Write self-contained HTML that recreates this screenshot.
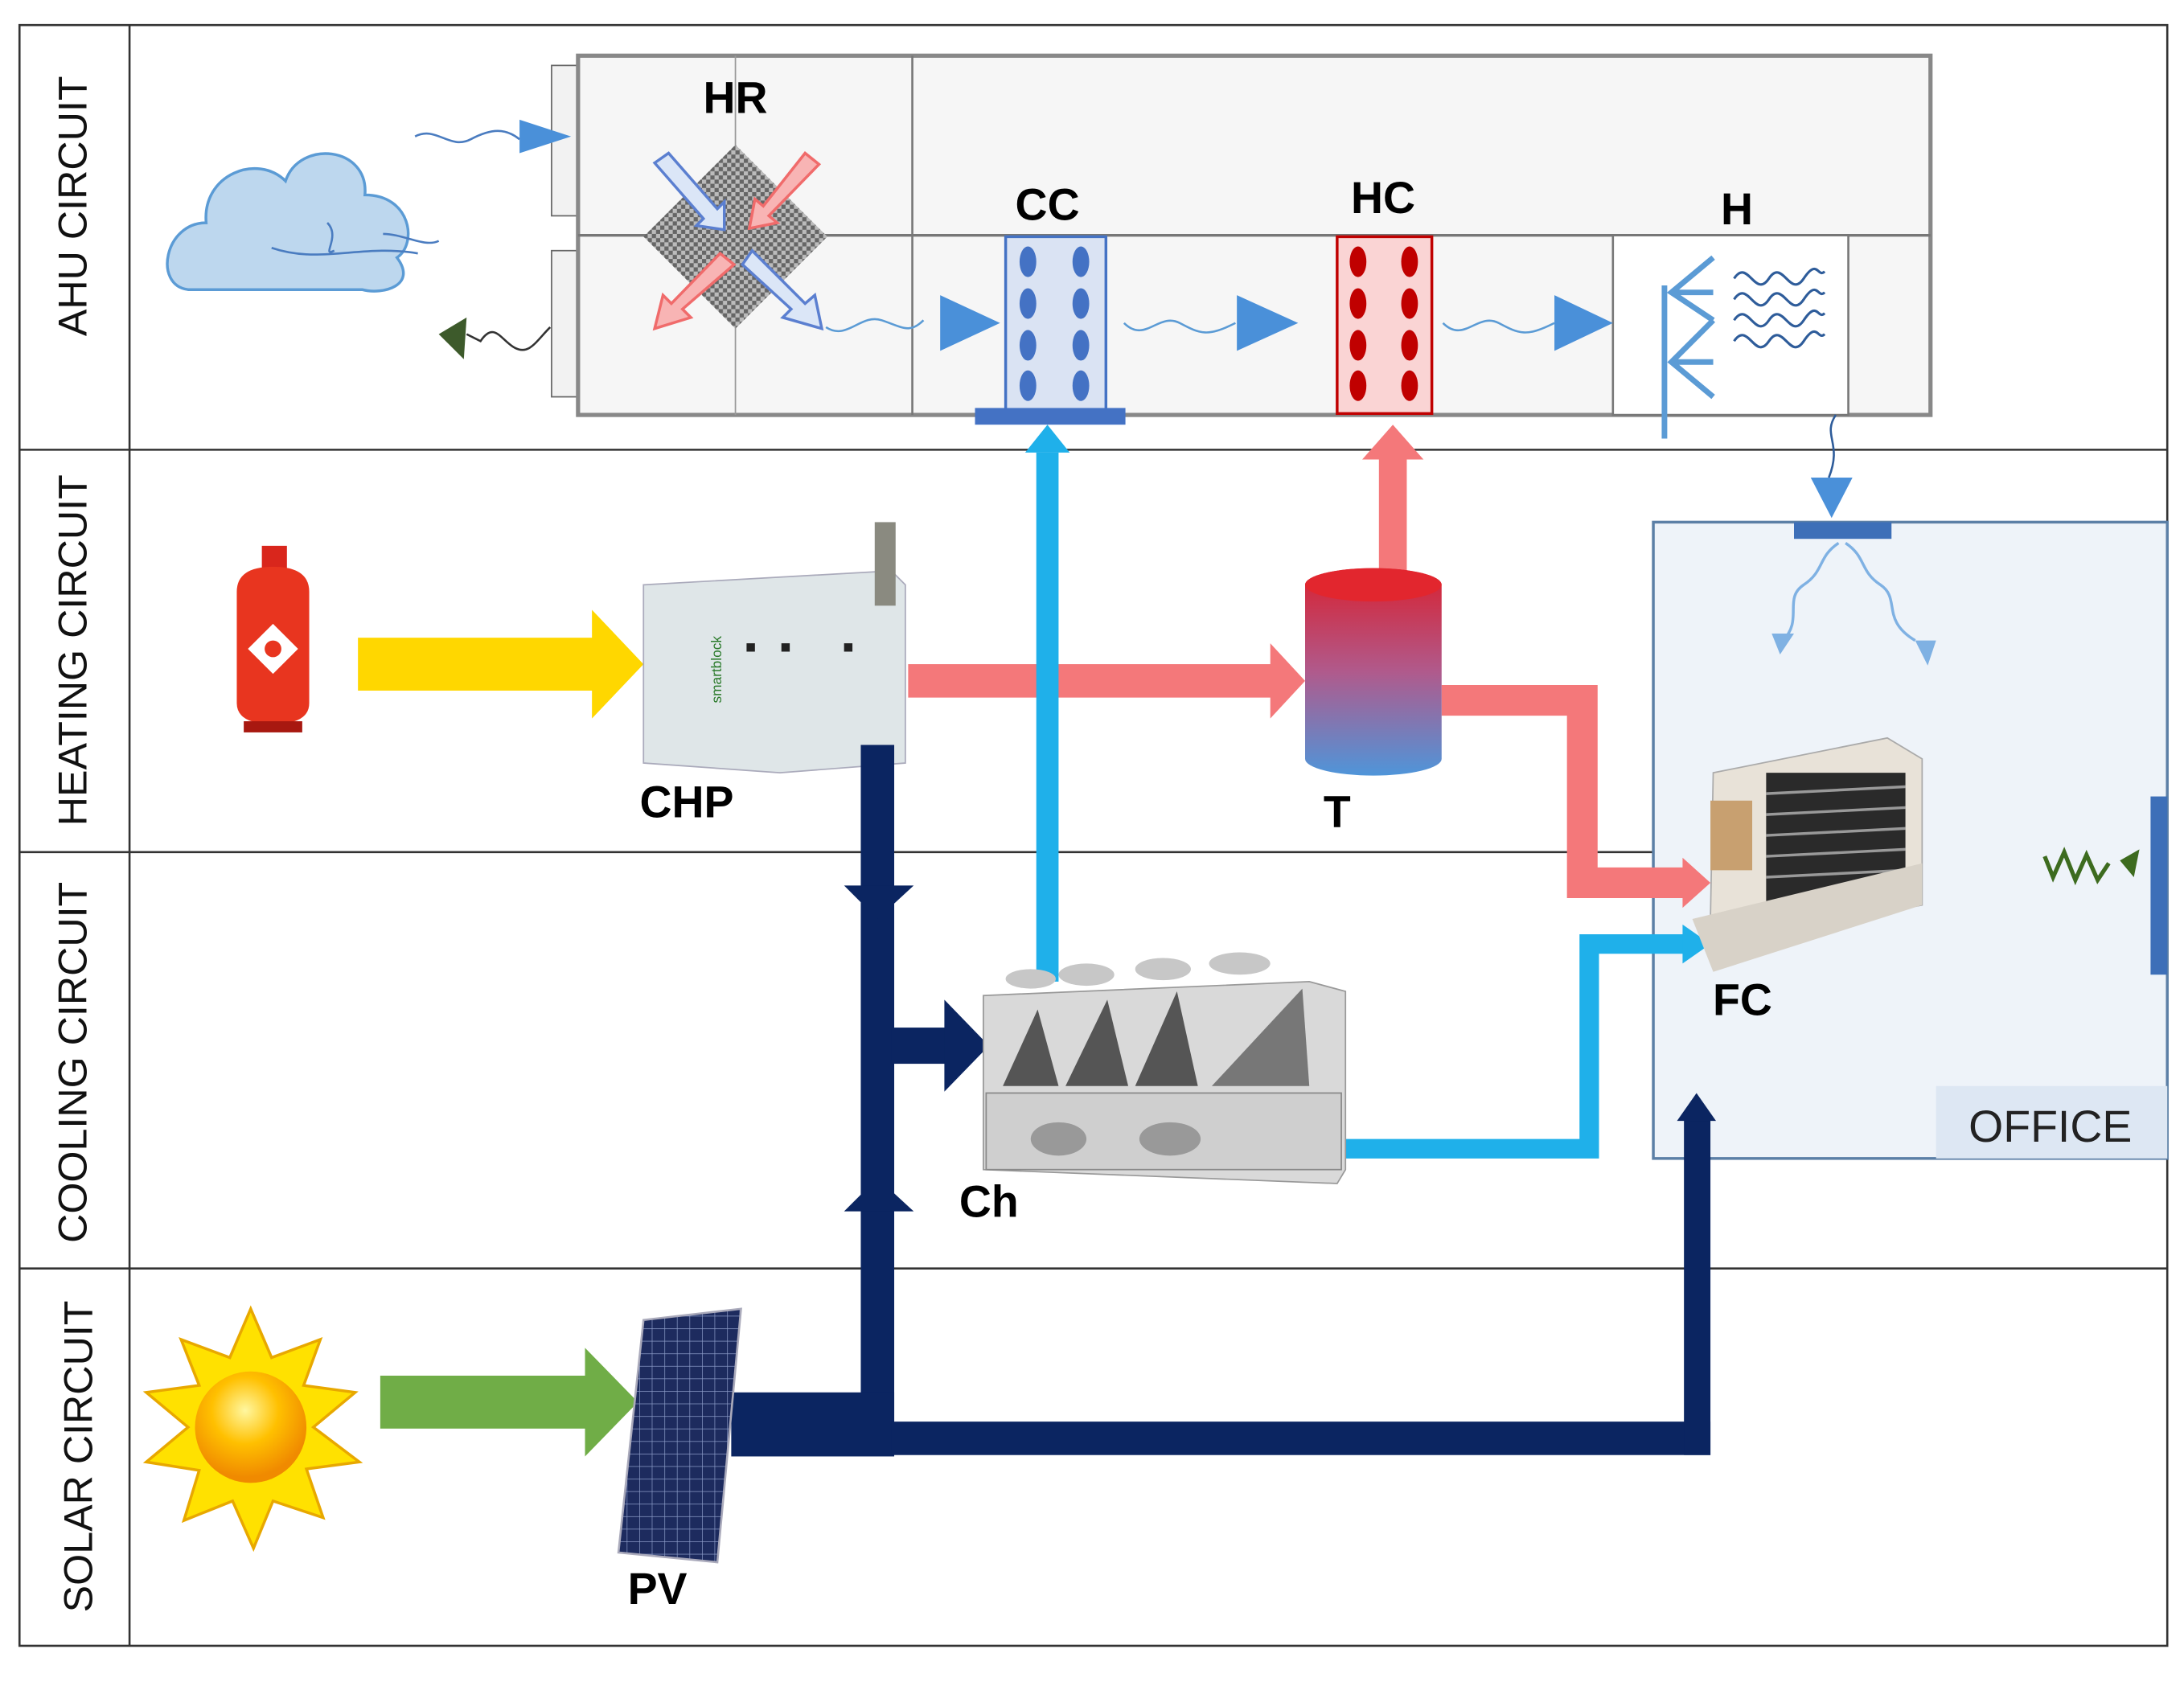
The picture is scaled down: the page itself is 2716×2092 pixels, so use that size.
<!DOCTYPE html>
<html><head><meta charset="utf-8"><style>
html,body{margin:0;padding:0;background:#fff;}
svg{display:block;}
text{font-family:"Liberation Sans",sans-serif;}
.lbl{font-weight:bold;font-size:32px;fill:#000;}
.side{font-size:29px;fill:#111;}
</style></head><body>
<svg width="2716" height="2092" viewBox="0 0 1568 1208" preserveAspectRatio="none" xmlns="http://www.w3.org/2000/svg">
<defs>
<pattern id="chk" width="6" height="6" patternUnits="userSpaceOnUse"><rect width="6" height="6" fill="#bbb"/><rect width="3" height="3" fill="#666"/><rect x="3" y="3" width="3" height="3" fill="#666"/></pattern>
<linearGradient id="tank" x1="0" y1="0" x2="0" y2="1"><stop offset="0" stop-color="#d9202e"/><stop offset="0.5" stop-color="#b05a8c"/><stop offset="1" stop-color="#4f95d9"/></linearGradient>
<radialGradient id="sun" cx="0.45" cy="0.35" r="0.6"><stop offset="0" stop-color="#fff7a0"/><stop offset="0.5" stop-color="#ffc000"/><stop offset="1" stop-color="#f08a00"/></radialGradient>
<pattern id="pv" width="9" height="9" patternUnits="userSpaceOnUse"><rect width="9" height="9" fill="#1d2b5e"/><path d="M0 0H9M0 0V9" stroke="#8c9cc8" stroke-width="0.8"/></pattern>
</defs>
<!-- frame -->
<rect x="14" y="18" width="1542" height="1164" fill="#fff" stroke="#333" stroke-width="1.5"/>
<line x1="93" y1="18" x2="93" y2="1182" stroke="#333" stroke-width="1.5"/>
<line x1="14" y1="323" x2="1556" y2="323" stroke="#333" stroke-width="1.5"/>
<line x1="14" y1="612" x2="1556" y2="612" stroke="#333" stroke-width="1.5"/>
<line x1="14" y1="911" x2="1556" y2="911" stroke="#333" stroke-width="1.5"/>
<text class="side" transform="translate(62,148) rotate(-90)" text-anchor="middle">AHU CIRCUIT</text>
<text class="side" transform="translate(62,467) rotate(-90)" text-anchor="middle">HEATING CIRCUIT</text>
<text class="side" transform="translate(62,763) rotate(-90)" text-anchor="middle">COOLING CIRCUIT</text>
<text class="side" transform="translate(66,1046) rotate(-90)" text-anchor="middle">SOLAR CIRCUIT</text>

<!-- office -->
<rect x="1187" y="375" width="369" height="457" fill="#eef3f9" stroke="#5b7fa6" stroke-width="2"/>
<rect x="1390" y="780" width="166" height="52" fill="#dde7f3"/>
<text x="1472" y="820" font-size="32" text-anchor="middle" fill="#222">OFFICE</text>
<rect x="1544" y="572" width="12" height="128" fill="#3d6fb8"/>
<path d="M1468 615 l6 15 l8 -18 l8 20 l8 -18 l8 18 l8 -12" stroke="#3d6b1f" stroke-width="3" fill="none"/>
<path d="M1522 618 l14 -8 l-4 20 z" fill="#3d6b1f"/>

<!-- AHU -->
<rect x="396" y="47" width="19" height="108" fill="#f2f2f2" stroke="#666"/>
<rect x="396" y="180" width="19" height="105" fill="#f2f2f2" stroke="#666"/>
<rect x="415" y="40" width="971" height="258" fill="#f6f6f6" stroke="#888" stroke-width="3"/>
<line x1="415" y1="169" x2="1386" y2="169" stroke="#777" stroke-width="2"/>
<line x1="655" y1="40" x2="655" y2="298" stroke="#777" stroke-width="1.5"/>
<line x1="528" y1="40" x2="528" y2="298" stroke="#999" stroke-width="1"/>
<rect x="1158" y="169" width="169" height="129" fill="#fff" stroke="#777" stroke-width="1.5"/>
<text class="lbl" x="528" y="81" text-anchor="middle">HR</text>
<text class="lbl" x="752" y="158" text-anchor="middle">CC</text>
<text class="lbl" x="993" y="153" text-anchor="middle">HC</text>
<text class="lbl" x="1247" y="161" text-anchor="middle">H</text>
<polygon points="528,104 594,170 528,236 462,170" fill="url(#chk)"/>
<g stroke-width="2">
<polygon points="470,117 480,110 515,150 520,145 520,165 500,162 505,157" fill="#dbe6f7" stroke="#5b7fd0"/>
<polygon points="588,118 578,110 548,148 542,143 538,164 558,160 552,155" fill="#f8b4b4" stroke="#f06b6b"/>
<polygon points="517,182 527,190 490,222 496,228 470,236 476,212 482,218" fill="#f8b4b4" stroke="#f06b6b"/>
<polygon points="540,180 533,190 568,222 562,228 590,236 585,212 578,218" fill="#dbe6f7" stroke="#5b7fd0"/>
</g>
<!-- cloud -->
<path d="M135 208 C110 205 118 160 148 160 C145 125 185 110 205 130 C215 100 265 105 262 140 C295 140 300 175 285 185 C300 205 275 212 260 208 Z" fill="#bdd7ee" stroke="#5b9bd5" stroke-width="2"/>
<path d="M195 178 C230 190 260 175 300 182 M235 160 c10 10 -5 25 5 20 M275 168 c15 0 30 10 40 5" stroke="#4a7cc0" stroke-width="1.5" fill="none"/>
<!-- air waves -->
<path d="M298 98 c15 -8 25 10 40 2 s25 -8 35 0" stroke="#4a7cc0" stroke-width="1.5" fill="none"/>
<polygon points="373,86 410,98 373,110" fill="#4a90d9"/>
<path d="M395 235 c-10 10 -15 20 -25 15 s-15 -20 -25 -5 l-10 -5" stroke="#333" stroke-width="1.5" fill="none"/>
<polygon points="315,240 335,228 333,258" fill="#3d5a2b"/>
<path d="M593 235 c15 10 25 -10 40 -5 s20 10 30 0" stroke="#5b9bd5" stroke-width="1.5" fill="none"/>
<polygon points="675,212 718,232 675,252" fill="#4a90d9"/>
<path d="M807 232 c15 15 25 -8 40 0 s20 10 40 0" stroke="#5b9bd5" stroke-width="1.5" fill="none"/>
<polygon points="888,212 932,232 888,252" fill="#4a90d9"/>
<path d="M1036 232 c15 15 25 -8 40 0 s20 10 40 0" stroke="#5b9bd5" stroke-width="1.5" fill="none"/>
<polygon points="1116,212 1158,232 1116,252" fill="#4a90d9"/>
<!-- CC -->
<rect x="722" y="170" width="72" height="127" fill="#dae3f3" stroke="#4472c4" stroke-width="2"/>
<g fill="#4472c4"><ellipse cx="738" cy="188" rx="6" ry="11"/><ellipse cx="776" cy="188" rx="6" ry="11"/><ellipse cx="738" cy="218" rx="6" ry="11"/><ellipse cx="776" cy="218" rx="6" ry="11"/><ellipse cx="738" cy="248" rx="6" ry="11"/><ellipse cx="776" cy="248" rx="6" ry="11"/><ellipse cx="738" cy="277" rx="6" ry="11"/><ellipse cx="776" cy="277" rx="6" ry="11"/></g>
<rect x="700" y="293" width="108" height="12" fill="#4472c4"/>
<!-- HC -->
<rect x="960" y="170" width="68" height="127" fill="#fad4d4" stroke="#c00000" stroke-width="2"/>
<g fill="#c00000"><ellipse cx="975" cy="188" rx="6" ry="11"/><ellipse cx="1012" cy="188" rx="6" ry="11"/><ellipse cx="975" cy="218" rx="6" ry="11"/><ellipse cx="1012" cy="218" rx="6" ry="11"/><ellipse cx="975" cy="248" rx="6" ry="11"/><ellipse cx="1012" cy="248" rx="6" ry="11"/><ellipse cx="975" cy="277" rx="6" ry="11"/><ellipse cx="1012" cy="277" rx="6" ry="11"/></g>
<!-- H -->
<g stroke="#5b9bd5" stroke-width="4" fill="none"><line x1="1195" y1="205" x2="1195" y2="315"/><path d="M1230 185 L1200 210 L1230 230 M1200 210 H1230 M1230 230 L1200 260 L1230 285 M1200 260 H1230"/></g>
<g stroke="#2e5c9a" stroke-width="1.8" fill="none"><path d="M1245 200 c10 -15 15 15 25 0 s15 15 25 0 s10 0 15 -5"/><path d="M1245 215 c10 -15 15 15 25 0 s15 15 25 0 s10 0 15 -5"/><path d="M1245 230 c10 -15 15 15 25 0 s15 15 25 0 s10 0 15 -5"/><path d="M1245 245 c10 -15 15 15 25 0 s15 15 25 0 s10 0 15 -5"/></g>
<path d="M1318 298 c-10 15 5 20 -5 45" stroke="#2e5c9a" stroke-width="1.5" fill="none"/>
<polygon points="1300,343 1330,343 1315,372" fill="#4a90d9"/>
<rect x="1288" y="375" width="70" height="12" fill="#3d6fb8"/>
<path d="M1320 390 c-15 10 -10 20 -25 30 s0 25 -15 40 M1325 390 c15 10 10 20 25 30 s0 25 25 40" stroke="#7fb1e3" stroke-width="2" fill="none"/>
<polygon points="1272,455 1288,455 1278,470" fill="#7fb1e3"/><polygon points="1375,460 1390,460 1384,478" fill="#7fb1e3"/>

<!-- heating -->
<rect x="257" y="458" width="170" height="38" fill="#ffd700"/>
<polygon points="425,438 462,477 425,516" fill="#ffd700"/>
<g><rect x="188" y="392" width="18" height="18" fill="#d9261c"/><path d="M170 425 q0 -18 26 -18 q26 0 26 18 v80 q0 15 -26 15 q-26 0 -26 -15 Z" fill="#e8351f"/><rect x="175" y="518" width="42" height="8" fill="#a81810"/><polygon points="196,448 214,466 196,484 178,466" fill="#fff"/><circle cx="196" cy="466" r="6" fill="#e8351f"/></g>
<!-- CHP -->
<polygon points="462,420 640,410 650,420 650,548 560,555 462,548" fill="#dfe6e8" stroke="#aab" stroke-width="1"/>
<rect x="628" y="375" width="15" height="60" fill="#8a8a80"/>
<rect x="536" y="462" width="6" height="6" fill="#222"/><rect x="561" y="462" width="6" height="6" fill="#222"/><rect x="606" y="462" width="6" height="6" fill="#222"/>
<text x="518" y="505" font-size="10" fill="#2a7a2a" transform="rotate(-90 518 505)">smartblock</text>
<text class="lbl" x="493" y="587" text-anchor="middle">CHP</text>
<!-- pink pipes -->
<rect x="652" y="477" width="262" height="24" fill="#f4787a"/>
<polygon points="912,462 937,489 912,516" fill="#f4787a"/>
<rect x="990" y="330" width="20" height="82" fill="#f4787a"/>
<polygon points="978,330 1000,305 1022,330" fill="#f4787a"/>
<path d="M1035 503 H1136 V634 H1210" stroke="#f4787a" stroke-width="22" fill="none"/>
<polygon points="1208,616 1228,634 1208,652" fill="#f4787a"/>
<!-- tank -->
<path d="M937 420 a49 12 0 0 1 98 0 V545 a49 12 0 0 1 -98 0 Z" fill="url(#tank)"/>
<ellipse cx="986" cy="420" rx="49" ry="12" fill="#e2262e"/>
<text class="lbl" x="960" y="594" text-anchor="middle">T</text>
<!-- cyan pipes -->
<rect x="744" y="325" width="16" height="380" fill="#1fb0ea"/>
<polygon points="736,325 752,305 768,325" fill="#1fb0ea"/>
<path d="M960 825 H1141 V678 H1210" stroke="#1fb0ea" stroke-width="14" fill="none"/>
<polygon points="1208,664 1228,678 1208,692" fill="#1fb0ea"/>
<!-- navy -->
<g fill="#0b2561">
<rect x="618" y="535" width="24" height="510"/>
<polygon points="606,636 656,636 630,660"/>
<polygon points="606,870 656,870 630,846"/>
<rect x="640" y="738" width="40" height="26"/>
<polygon points="678,718 710,751 678,784"/>
<rect x="525" y="1000" width="117" height="46"/>
<rect x="640" y="1021" width="588" height="24"/>
<rect x="1209" y="800" width="19" height="245"/>
<polygon points="1204,805 1218,785 1232,805"/>
</g>
<!-- chiller -->
<g>
<polygon points="706,715 940,705 966,712 966,840 960,850 706,840" fill="#d9d9d9" stroke="#999"/>
<rect x="708" y="785" width="255" height="55" fill="#cfcfcf" stroke="#888"/>
<polygon points="720,780 745,725 760,780" fill="#555"/><polygon points="765,780 795,718 810,780" fill="#555"/><polygon points="815,780 845,712 860,780" fill="#555"/><polygon points="870,780 935,710 940,780" fill="#777"/>
<ellipse cx="740" cy="703" rx="18" ry="7" fill="#c7c7c7"/><ellipse cx="780" cy="700" rx="20" ry="8" fill="#c7c7c7"/><ellipse cx="835" cy="696" rx="20" ry="8" fill="#c7c7c7"/><ellipse cx="890" cy="692" rx="22" ry="8" fill="#c7c7c7"/>
<ellipse cx="760" cy="818" rx="20" ry="12" fill="#999"/><ellipse cx="840" cy="818" rx="22" ry="12" fill="#999"/>
</g>
<text class="lbl" x="710" y="874" text-anchor="middle">Ch</text>
<!-- FC -->
<g>
<polygon points="1230,555 1355,530 1380,545 1380,650 1250,675 1228,660" fill="#e8e2d8" stroke="#aaa"/>
<rect x="1268" y="555" width="100" height="95" fill="#2a2a2a"/>
<g stroke="#999" stroke-width="2"><line x1="1268" y1="570" x2="1368" y2="565"/><line x1="1268" y1="585" x2="1368" y2="580"/><line x1="1268" y1="600" x2="1368" y2="595"/><line x1="1268" y1="615" x2="1368" y2="610"/><line x1="1268" y1="630" x2="1368" y2="625"/></g>
<polygon points="1215,660 1380,620 1380,650 1230,698" fill="#d8d2c8"/>
<rect x="1228" y="575" width="30" height="50" fill="#c8a070"/>
</g>
<text class="lbl" x="1251" y="729" text-anchor="middle">FC</text>
<!-- solar -->
<g fill="#ffe100" stroke="#e8a800" stroke-width="2"><polygon points="180,940 195,975 230,962 218,995 255,1000 225,1025 258,1050 220,1055 232,1090 196,1078 182,1112 167,1078 132,1092 143,1056 105,1050 135,1025 105,1000 143,995 130,962 165,975"/></g>
<circle cx="180" cy="1025" r="40" fill="url(#sun)"/>
<rect x="273" y="988" width="150" height="38" fill="#70ad47"/>
<polygon points="420,968 458,1007 420,1046" fill="#70ad47"/>
<polygon points="462,948 532,940 515,1122 444,1115" fill="url(#pv)" stroke="#aab" stroke-width="1.5"/>
<text class="lbl" x="472" y="1152" text-anchor="middle">PV</text>
</svg>
</body></html>
